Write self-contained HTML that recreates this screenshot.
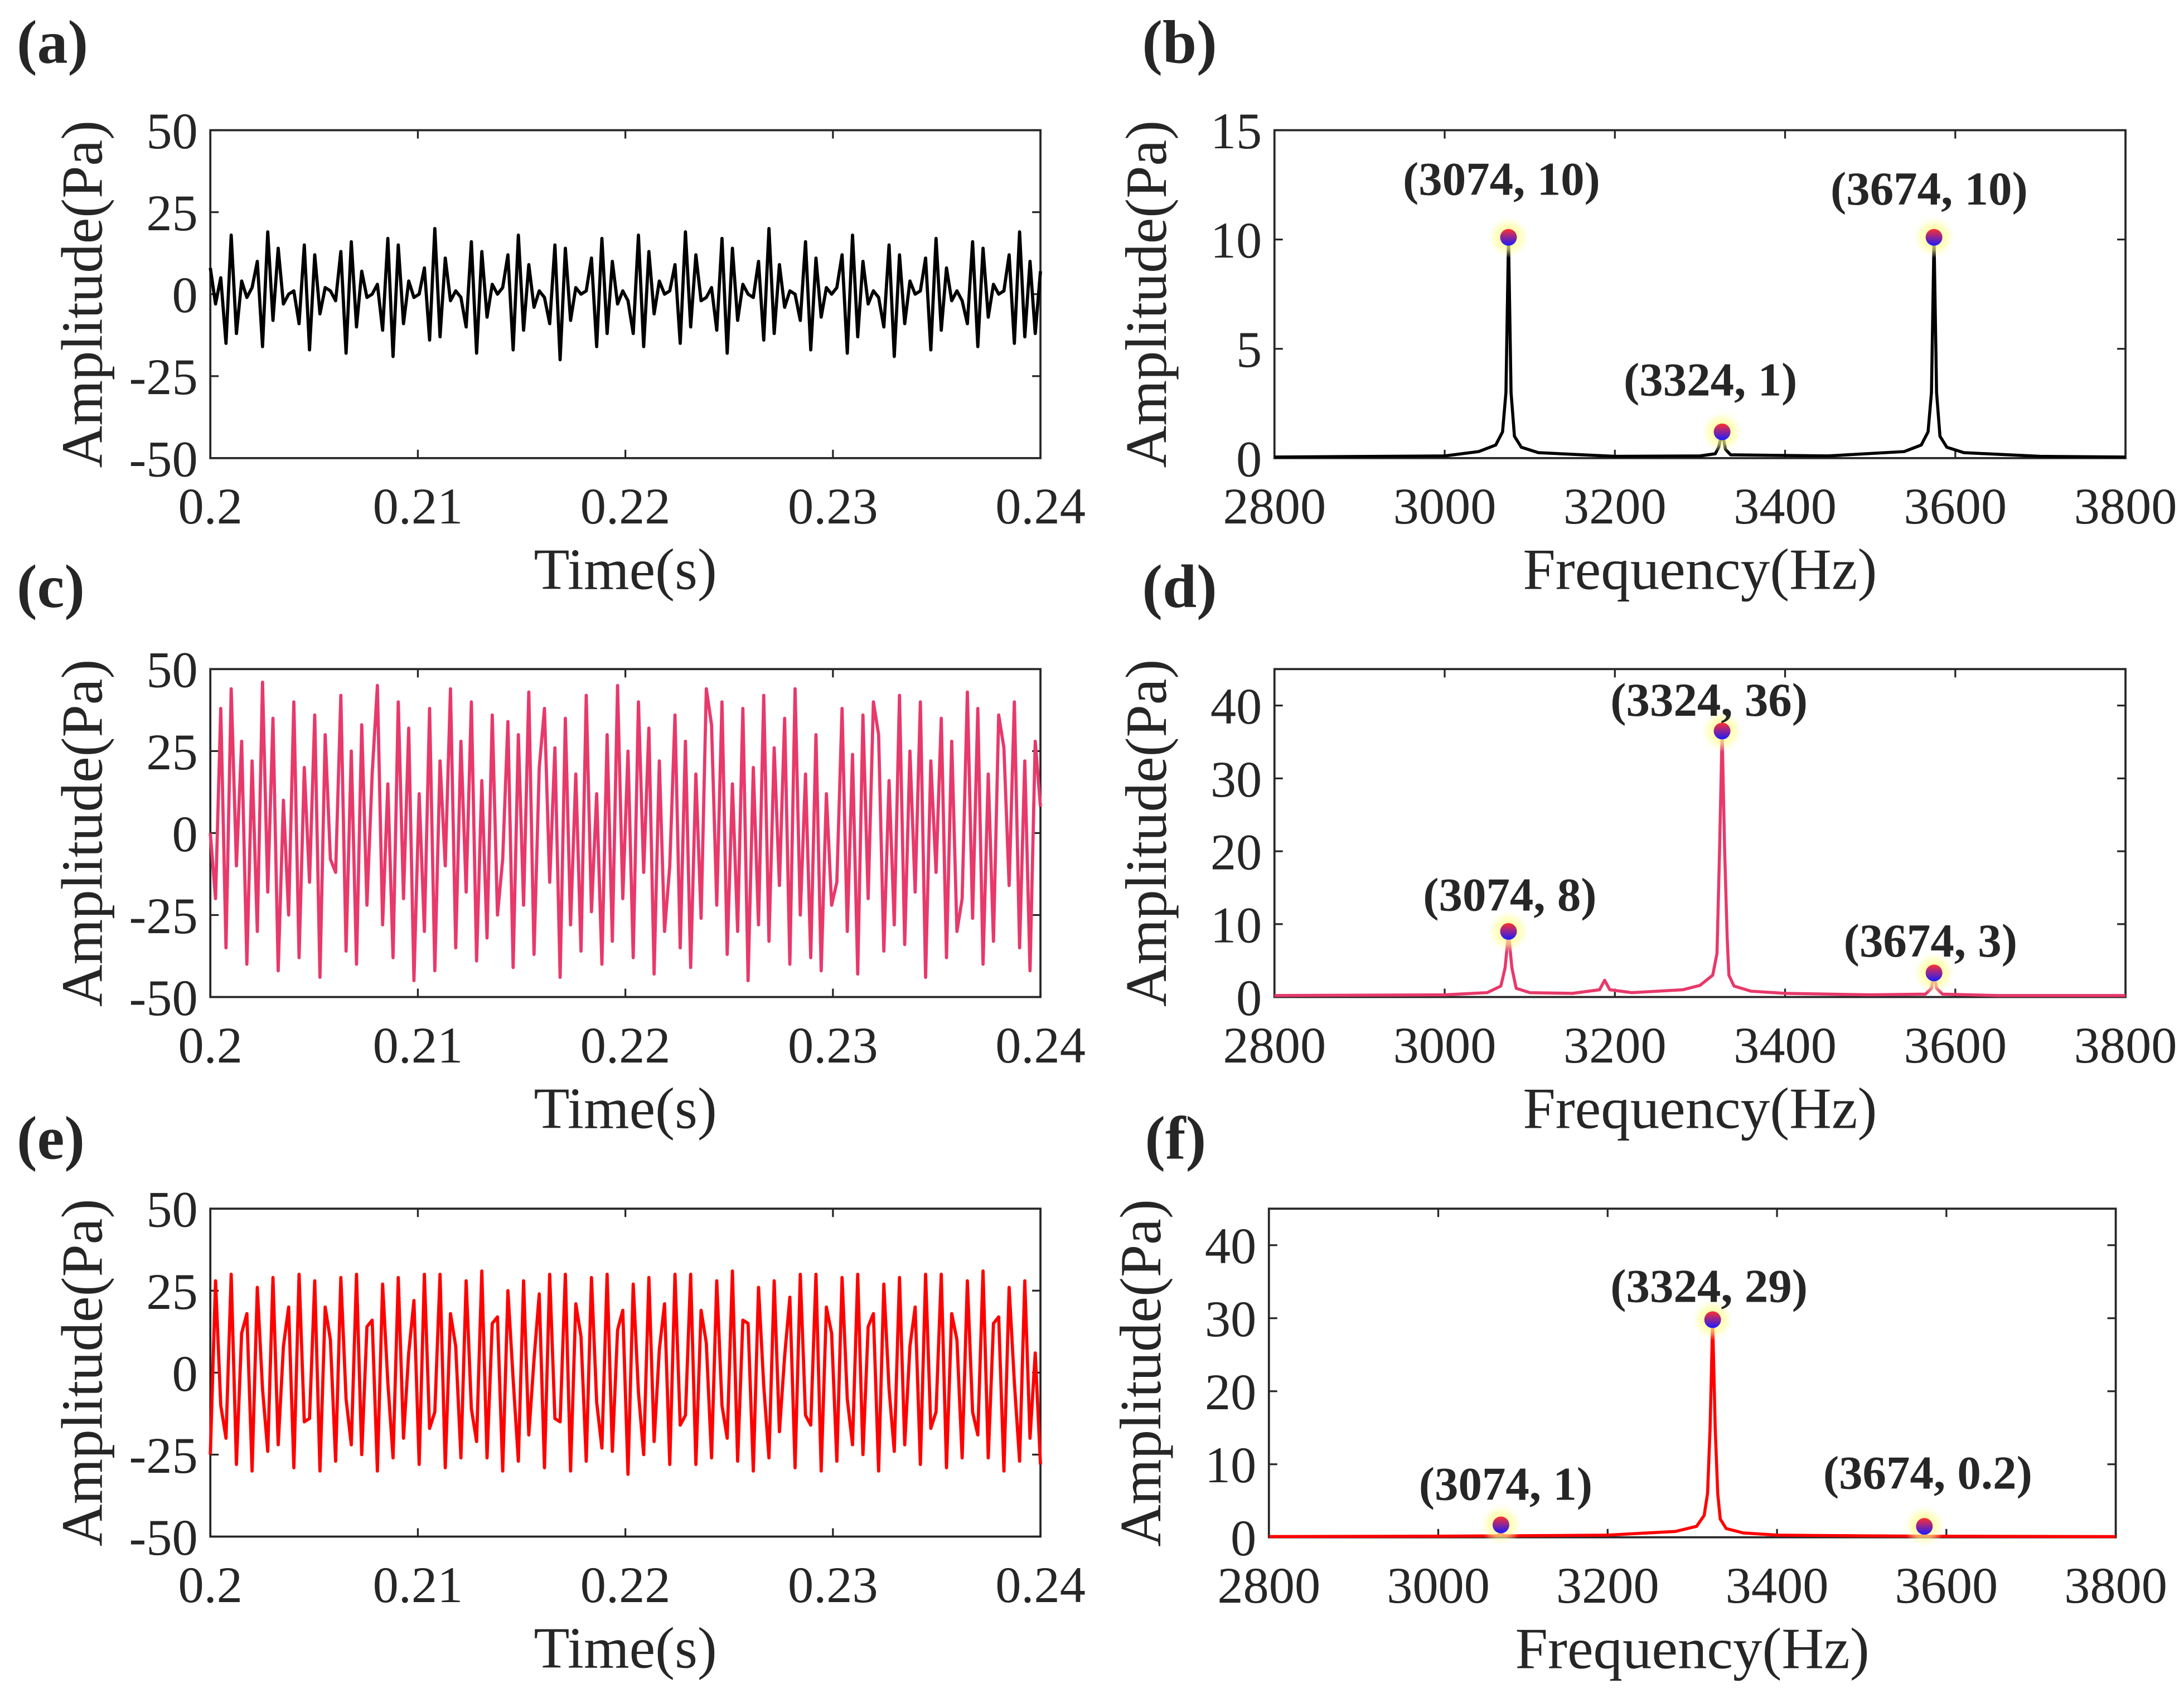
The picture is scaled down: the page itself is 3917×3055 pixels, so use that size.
<!DOCTYPE html>
<html><head><meta charset="utf-8">
<style>
html,body{margin:0;padding:0;background:#fff;}
svg{display:block;}
text{font-family:"Liberation Serif",serif;fill:#262626;}
</style></head>
<body>
<svg id="fig" width="3917" height="3055" viewBox="0 0 1568 1223" preserveAspectRatio="none" xmlns="http://www.w3.org/2000/svg">
<defs>
<radialGradient id="glow"><stop offset="0" stop-color="#ffff80" stop-opacity="0.9"/><stop offset="0.6" stop-color="#ffff99" stop-opacity="0.6"/><stop offset="1" stop-color="#ffffcc" stop-opacity="0"/></radialGradient>
<linearGradient id="ball" x1="0" y1="0" x2="0" y2="1"><stop offset="0" stop-color="#ff3030"/><stop offset="1" stop-color="#1a1aff"/></linearGradient>
</defs>
</svg>
<script>
// ---- data ----
const timeA = [8,-3,5,-15,18,-12,4,-1,2,10,-16,19,-8,14,-3,0,1,-9,15,-17,12,-6,2,1,-2,13,-18,16,-10,7,-1,0,3,-11,17,-19,15,-9,4,-1,0,8,-14,20,-13,11,-2,1,-1,-10,16,-18,13,-7,3,0,2,12,-17,18,-11,9,-4,1,-1,-9,15,-20,14,-8,2,0,1,11,-16,17,-12,10,-3,1,-2,-12,18,-16,13,-6,4,0,1,9,-15,19,-10,12,-2,-1,2,-11,17,-18,14,-8,3,0,-1,10,-14,20,-12,9,-4,1,0,-8,16,-17,11,-7,2,0,2,12,-18,18,-13,10,-3,1,-1,-10,15,-19,12,-9,4,0,1,11,-17,17,-11,8,-2,1,-2,-9,16,-16,14,-7,3,0,1,12,-15,19,-13,10,-12,7];
const timeC = [0,-20,38,-35,44,-10,28,-40,22,-30,46,-18,35,-42,10,-25,40,-38,20,-15,36,-44,30,-8,-12,42,-36,25,-40,33,-22,18,45,-28,15,-38,40,-20,32,-45,12,-30,38,-42,22,-10,44,-35,28,-18,40,-39,16,-32,36,-25,-8,34,-41,30,-22,43,-37,20,38,-15,26,-44,35,-28,18,-36,42,-24,12,-40,30,-33,45,-20,25,-38,40,-12,32,-43,22,-30,-10,36,-35,28,-41,18,-26,44,33,-22,40,-37,15,-30,38,-45,20,-28,42,-33,26,-16,35,-40,44,-25,18,-38,30,-42,12,-22,-15,38,-30,24,-43,36,-20,40,30,-36,16,-28,42,-34,25,-18,40,-44,22,-12,35,-38,28,-30,-20,43,-26,38,-40,18,-33,36,26,-16,40,-35,22,-42,28,8];
const timeE = [-25,28,-10,-20,30,-28,12,18,-30,26,-5,-24,29,-22,8,20,-29,30,-15,-14,28,-30,20,10,-27,29,-8,-22,30,-25,14,16,-30,27,-3,-26,29,-20,6,22,-28,30,-17,-12,30,-29,18,8,-26,28,-11,-21,31,-26,15,17,-30,25,-2,-27,28,-19,4,24,-29,30,-14,-15,30,-30,21,11,-27,29,-9,-23,30,-24,13,19,-31,27,-6,-25,29,-21,7,21,-28,30,-16,-13,30,-28,19,9,-26,28,-10,-20,31,-27,16,15,-30,26,-4,-26,28,-18,5,23,-29,30,-13,-16,30,-30,20,12,-27,29,-8,-22,30,-25,14,18,-30,27,-5,-24,29,-22,8,20,-28,30,-17,-12,30,-29,18,10,-26,28,-12,-19,31,-26,15,17,-30,26,-3,-27,28,-20,6,-28];

const freqB = [2800,3000,3040,3060,3068,3072,3075,3078,3082,3090,3110,3200,3300,3318,3322,3326,3330,3336,3450,3540,3560,3568,3572,3575,3578,3582,3590,3610,3700,3800];
const ampB  = [0.05,0.1,0.3,0.6,1.2,3,10.1,3,1.0,0.5,0.25,0.08,0.1,0.2,0.5,1.2,0.4,0.15,0.1,0.3,0.6,1.2,3,10.1,3,1.0,0.5,0.25,0.08,0.05];
const freqD = [2800,3000,3050,3066,3071,3075,3079,3084,3100,3150,3182,3188,3194,3220,3280,3300,3315,3320,3323,3326,3329,3332,3334,3340,3360,3400,3500,3565,3572,3575,3578,3585,3650,3800];
const ampD  = [0.2,0.3,0.6,1.5,4,8.8,4,1.2,0.6,0.5,1,2.3,1,0.6,1,1.6,3,6,20,36.5,20,8,3,1.5,0.8,0.5,0.3,0.4,1.2,3.3,1.2,0.4,0.2,0.2];
const freqF = [2800,3000,3070,3074,3078,3200,3280,3305,3314,3318,3321,3324,3327,3330,3333,3340,3360,3400,3500,3570,3574,3578,3800];
const ampF  = [0.1,0.15,0.2,0.5,0.2,0.3,0.8,1.5,3,6,15,29.8,15,6,2.5,1.2,0.6,0.3,0.2,0.15,0.3,0.15,0.1];

const markB = [[3075,10.1],[3326,1.2],[3575,10.1]];
const markD = [[3075,9],[3326,36.5],[3575,3.3]];
const markF = [[3074,1.7],[3324,29.8],[3574,1.5]];
const labelsB = ["(3074, 10)","(3324, 1)","(3674, 10)"];
const labelsD = ["(3074, 8)","(3324, 36)","(3674, 3)"];
const labelsF = ["(3074, 1)","(3324, 29)","(3674, 0.2)"];

const timeTicks = [0.2,0.21,0.22,0.23,0.24];
const timeTickLabels = ["0.2","0.21","0.22","0.23","0.24"];
const ampTicks = [-50,-25,0,25,50];
const freqTicks = [2800,3000,3200,3400,3600,3800];
const specTicksB = [0,5,10,15];
const specTicksDF = [0,10,20,30,40];

// ---- drawing ----
const NS="http://www.w3.org/2000/svg";
const svg=document.getElementById('fig');
function el(tag,attrs,parent){const e=document.createElementNS(NS,tag);for(const k in attrs)e.setAttribute(k,attrs[k]);(parent||svg).appendChild(e);return e;}

function axes(name,box,xmin,xmax,ymin,ymax,xt,xtl,yt,xlabel){
  const g=el('g',{});
  
  
  const sx=v=>box.l+(v-xmin)/(xmax-xmin)*(box.r-box.l);
  const sy=v=>box.b-(v-ymin)/(ymax-ymin)*(box.b-box.t);
  const frame=el('rect',{x:box.l,y:box.t,width:box.r-box.l,height:box.b-box.t,fill:'none',stroke:'#262626','stroke-width':1.5},g);
  
  
  xt.forEach((v,i)=>{
    const x=sx(v);
    el('line',{x1:x,y1:box.b,x2:x,y2:box.b-6,stroke:'#262626','stroke-width':1.3},g);
    el('line',{x1:x,y1:box.t,x2:x,y2:box.t+6,stroke:'#262626','stroke-width':1.3},g);
    const t=el('text',{x:x,y:box.b+47,'text-anchor':'middle','font-size':37},g);
    t.textContent=xtl[i];
    
    
  });
  yt.forEach(v=>{
    const y=sy(v);
    el('line',{x1:box.l,y1:y,x2:box.l+6,y2:y,stroke:'#262626','stroke-width':1.3},g);
    el('line',{x1:box.r,y1:y,x2:box.r-6,y2:y,stroke:'#262626','stroke-width':1.3},g);
    const t=el('text',{x:box.l-9,y:y+13,'text-anchor':'end','font-size':37},g);
    t.textContent=String(v);
    
    
  });
  const xl=el('text',{x:(box.l+box.r)/2,y:box.b+94,'text-anchor':'middle','font-size':42},g);
  xl.textContent=xlabel;
  
  
  const cy=(box.t+box.b)/2;
  const yl=el('text',{x:0,y:0,'text-anchor':'middle','font-size':42,transform:`translate(${box.l-78},${cy}) rotate(-90)`},g);
  yl.textContent='Amplitude(Pa)';
  
  
  return {sx,sy,g};
}

function panelLabel(txt,x,y){
  const t=el('text',{x:x,y:y,'font-size':44,'font-weight':'bold',fill:'#111'});
  t.textContent=txt;
  
  
}

function timePanel(name,top,data,color){
  const box={l:151,r:747,t:top,b:top+235.5};
  const a=axes(name,box,0.2,0.24,-50,50,timeTicks,timeTickLabels,ampTicks,'Time(s)');
  const n=data.length;
  const pts=data.map((v,i)=>a.sx(0.2+i*0.04/(n-1)).toFixed(2)+','+a.sy(v).toFixed(2)).join(' ');
  const p=el('polyline',{points:pts,fill:'none',stroke:color,'stroke-width':2.3,'stroke-linejoin':'round'},a.g);
  
  
}

function specPanel(name,box,ymax,yt,fr,am,marks,labels,labelPos,color){
  const a=axes(name,box,2800,3800,0,ymax,freqTicks,freqTicks.map(String),yt,'Frequency(Hz)');
  const pts=fr.map((f,i)=>a.sx(f).toFixed(2)+','+a.sy(am[i]).toFixed(2)).join(' ');
  const p=el('polyline',{points:pts,fill:'none',stroke:color,'stroke-width':2.2,'stroke-linejoin':'round'},a.g);
  
  
  marks.forEach((m,i)=>{
    const x=a.sx(m[0]),y=a.sy(m[1]);
    const h=el('circle',{cx:x,cy:y,r:15,fill:'url(#glow)'},a.g);
    
    
    const c=el('circle',{cx:x,cy:y,r:6,fill:'url(#ball)'},a.g);
    
    
    const t=el('text',{x:labelPos[i][0],y:labelPos[i][1],'text-anchor':'middle','font-size':34,'font-weight':'bold',fill:'#111'},a.g);
    t.textContent=labels[i];
    
    
  });
}

panelLabel('(a)',12,45);
panelLabel('(b)',820,45);
panelLabel('(c)',12,436);
panelLabel('(d)',820,436);
panelLabel('(e)',12,832);
panelLabel('(f)',822,832);

timePanel('time-plot-a',93.5,timeA,'#000000');
timePanel('time-plot-c',480.5,timeC,'#E8396B');
timePanel('time-plot-e',868,timeE,'#FF0000');

specPanel('spectrum-plot-b',{l:915,r:1526,t:93.5,b:329},15,specTicksB,freqB,ampB,markB,labelsB,[[1078,140],[1228,284],[1385,147]],'#000000');
specPanel('spectrum-plot-d',{l:915,r:1526,t:480.5,b:716},45,specTicksDF,freqD,ampD,markD,labelsD,[[1084,654],[1227,514],[1386,687]],'#E8396B');
specPanel('spectrum-plot-f',{l:911,r:1519,t:868,b:1104},45,specTicksDF,freqF,ampF,markF,labelsF,[[1081,1077],[1227,935],[1384,1069]],'#FF0000');
</script>
</body></html>
